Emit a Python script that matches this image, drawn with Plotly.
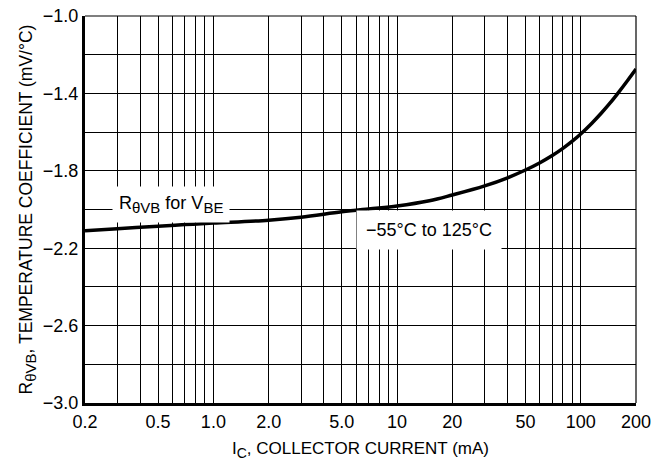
import numpy as np
import plotly.graph_objects as go

# Curve data: collector current (mA) vs temperature coefficient (mV/°C)
ic_ma = [0.2, 0.3, 0.5, 0.7, 1.0, 2.0, 3.0, 5.0, 7.0, 10, 15, 20, 30, 40, 50, 60, 70, 80, 90,
         100, 115, 130, 145, 160, 180, 200]
coef = [-2.11, -2.10, -2.086, -2.078, -2.07, -2.055, -2.04, -2.012, -1.997, -1.982, -1.955,
        -1.925, -1.878, -1.836, -1.796, -1.758, -1.721, -1.684, -1.647, -1.61, -1.554, -1.50,
        -1.448, -1.397, -1.333, -1.274]

x_grid = [0.2, 0.3, 0.4, 0.5, 0.6, 0.7, 0.8, 0.9, 1, 2, 3, 4, 5, 6, 7, 8, 9, 10,
          20, 30, 40, 50, 60, 70, 80, 90, 100, 200]
x_labels = ["0.2", "", "", "0.5", "", "", "", "", "1.0", "2.0", "", "", "5.0", "", "", "", "", "10",
            "20", "", "", "50", "", "", "", "", "100", "200"]
y_grid = [-3.0, -2.8, -2.6, -2.4, -2.2, -2.0, -1.8, -1.6, -1.4, -1.2, -1.0]
y_labels = ["−3.0", "", "−2.6", "", "−2.2", "", "−1.8", "", "−1.4", "", "−1.0"]

FONT = "Liberation Sans, Arial, Helvetica, sans-serif"
FS_TICK = 18
FS_TITLE = 17


def sub(t, px):
    return f"<sub><span style='font-size:{px}px'>{t}</span></sub>"


fig = go.Figure()
fig.add_trace(go.Scatter(x=ic_ma, y=coef, mode="lines",
                         line=dict(color="black", width=3.5, shape="spline", smoothing=1.0),
                         showlegend=False, hoverinfo="skip"))

fig.update_xaxes(type="log", range=[np.log10(0.2), np.log10(200)],
                 tickvals=x_grid, ticktext=x_labels, ticks="", automargin=False,
                 showgrid=True, gridcolor="black", gridwidth=1.2,
                 showline=True, linecolor="black", linewidth=3,
                 tickfont=dict(family=FONT, size=FS_TICK, color="black"),
                 title=dict(text="I" + sub("C", 14) + ", COLLECTOR CURRENT (mA)",
                            font=dict(family=FONT, size=FS_TITLE, color="black"), standoff=12),
                 zeroline=False)
fig.update_yaxes(range=[-3.0, -1.0], tickvals=y_grid, ticktext=y_labels, ticks="", automargin=False,
                 showgrid=True, gridcolor="black", gridwidth=1.2,
                 showline=True, linecolor="black", linewidth=3,
                 tickfont=dict(family=FONT, size=FS_TICK, color="black"),
                 title=dict(text="R" + sub("θVB", 15) + ", TEMPERATURE COEFFICIENT (mV/°C)",
                            font=dict(family=FONT, size=17.5, color="black"), standoff=6),
                 zeroline=False)

# top and right frame lines (thin)
fig.add_shape(type="line", xref="paper", yref="paper", x0=0, x1=1, y0=1, y1=1,
              line=dict(color="black", width=1.2))
fig.add_shape(type="line", xref="paper", yref="paper", x0=1, x1=1, y0=0, y1=1,
              line=dict(color="black", width=1.2))

fig.add_annotation(x=np.log10(0.585), y=-2.0, yshift=5,
                   text="R" + sub("θVB", 15) + " for V" + sub("BE", 15),
                   showarrow=False, bgcolor="white", borderpad=6,
                   font=dict(family=FONT, size=FS_TICK, color="black"))
fig.add_annotation(x=np.log10(14.9), y=-2.106, text="−55°C to 125°C",
                   showarrow=False, bgcolor="white", borderpad=9,
                   font=dict(family=FONT, size=FS_TICK, color="black"))

fig.update_layout(width=665, height=466, margin=dict(l=85, r=29, t=16, b=63),
                  plot_bgcolor="white", paper_bgcolor="white")

fig.write_html("out.html", config={"displayModeBar": False},
               post_script="document.body.style.margin='0';document.body.style.overflow='hidden';")
